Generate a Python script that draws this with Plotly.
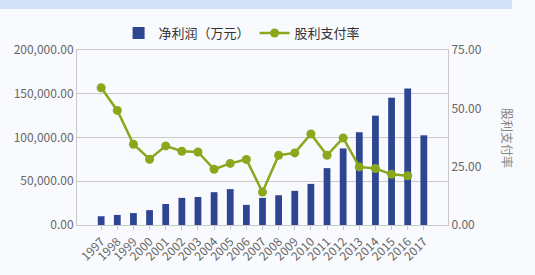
import plotly.graph_objects as go

years = [str(y) for y in range(1997, 2018)]
net_profit = [10000, 11500, 13600, 17000, 24000, 31000, 32000, 37500, 41000, 23000,
              31000, 34000, 39000, 47000, 65000, 87500, 106000, 125000, 145500, 156000, 102500]
payout = [58.8, 49.1, 34.6, 28.2, 33.9, 31.6, 31.3, 23.9, 26.4, 28.1,
          14.1, 29.9, 30.9, 39.0, 29.9, 37.3, 24.9, 24.2, 21.7, 21.1, None]

font_cn = "Noto Sans CJK SC, Noto Sans, sans-serif"
bg = "#f9fafd"

fig = go.Figure()
fig.add_trace(go.Bar(x=years, y=net_profit, name="净利润（万元）",
                     marker=dict(color="#2e4591", line=dict(width=0)), width=0.42))
fig.add_trace(go.Scatter(x=years, y=payout, name="股利支付率", yaxis="y2",
                         mode="lines+markers",
                         line=dict(color="#8ba71c", width=2.5),
                         marker=dict(color="#8ba71c", size=9)))

fig.update_layout(
    width=535, height=275,
    margin=dict(l=77, r=87, t=50, b=50),
    paper_bgcolor=bg, plot_bgcolor=bg,
    font=dict(family=font_cn, size=12, color="#666666"),
    showlegend=True,
    legend=dict(orientation="h", x=0.445, xanchor="center", y=1.097, yanchor="middle",
                font=dict(size=13, color="#333333"), bgcolor="rgba(0,0,0,0)",
                itemwidth=30, traceorder="normal"),
    xaxis=dict(type="category", tickangle=-45, showgrid=False,
               showline=True, linecolor="#c8c8c8", linewidth=1, mirror=True,
               ticks="outside", ticklen=4, tickcolor="#c8c8c8",
               tickfont=dict(size=12, color="#666666")),
    yaxis=dict(range=[0, 200000], dtick=50000, tickformat=",.2f",
               showgrid=True, gridcolor="#c8c8c8", gridwidth=1,
               showline=True, linecolor="#c8c8c8", zeroline=False,
               ticks="", tickfont=dict(size=12, color="#666666")),
    yaxis2=dict(range=[0, 75], dtick=25, tickformat=".2f", overlaying="y", side="right",
                showgrid=False, showline=True, linecolor="#c8c8c8", zeroline=False,
                ticks="", tickfont=dict(size=12, color="#666666")),
    shapes=[dict(type="rect", xref="paper", yref="paper",
                 x0=-0.2075, x1=1.1725, y0=1.234, y1=1.2857,
                 fillcolor="#d3e1f6", line=dict(width=0), layer="below")],
    annotations=[dict(text="股利支付率", xref="paper", yref="paper",
                      x=1.189, y=0.5, textangle=90, showarrow=False,
                      font=dict(size=12, color="#888888"))],
)

fig.write_html("out.html")
